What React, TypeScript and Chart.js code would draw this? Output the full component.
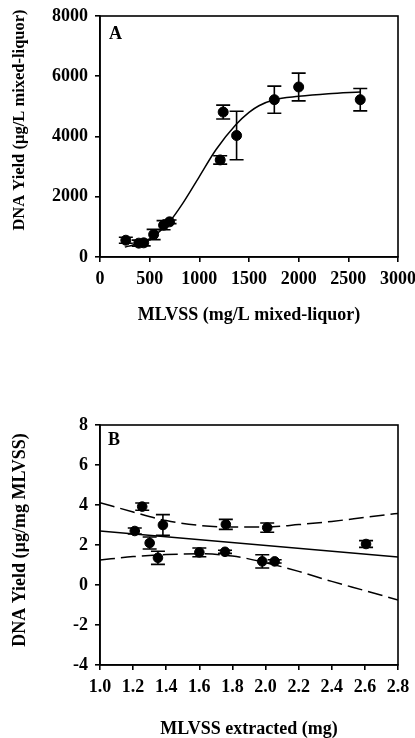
import React, { useEffect, useRef } from "react";
import { Chart, registerables } from "chart.js";

Chart.register(...registerables);

const FONT = "'Liberation Serif', 'Times New Roman', Times, serif";

// ---------- Panel A data ----------
const A_X = [260, 390, 440, 540, 640, 700, 1210, 1240, 1375, 1755, 2000, 2620];
const A_Y = [557, 460, 470, 746, 1056, 1167, 3222, 4811, 4033, 5222, 5644, 5222];
const A_ERR = [100, 100, 100, 170, 150, 60, 140, 230, 805, 450, 460, 370];
const A_FIT_X = [250, 333, 500, 600, 700, 833, 1000, 1167, 1367, 1500, 1600, 1753, 2000, 2300, 2620];
const A_FIT_Y = [330, 400, 600, 850, 1170, 1780, 2670, 3560, 4390, 4800, 5020, 5222, 5333, 5420, 5478];
const A_X_TICKS = [0, 500, 1000, 1500, 2000, 2500, 3000];
const A_Y_TICKS = [0, 2000, 4000, 6000, 8000];
const A_LABEL = "A";
const A_X_TITLE = "MLVSS (mg/L mixed-liquor)";
const A_Y_TITLE = "DNA Yield (µg/L mixed-liquor)";

// ---------- Panel B data ----------
const B_X = [1.21, 1.255, 1.3, 1.35, 1.38, 1.6, 1.755, 1.76, 1.98, 2.01, 2.055, 2.607];
const B_Y = [2.7, 3.92, 2.1, 1.36, 3.0, 1.63, 1.66, 3.03, 1.18, 2.87, 1.18, 2.05];
const B_ERR = [0.15, 0.18, 0.3, 0.33, 0.52, 0.22, 0.08, 0.25, 0.33, 0.23, 0.08, 0.17];
const B_FIT_X = [1.0, 2.8];
const B_FIT_Y = [2.7, 1.4];
const B_BAND_X = [1.0, 1.2, 1.4, 1.6, 1.8, 2.0, 2.2, 2.4, 2.6, 2.8];
const B_UPPER_Y = [4.12, 3.65, 3.22, 2.98, 2.9, 2.9, 3.02, 3.18, 3.38, 3.58];
const B_LOWER_Y = [1.25, 1.42, 1.52, 1.56, 1.45, 1.12, 0.68, 0.18, -0.28, -0.75];
const B_X_TICKS = [1.0, 1.2, 1.4, 1.6, 1.8, 2.0, 2.2, 2.4, 2.6, 2.8];
const B_Y_TICKS = [-4, -2, 0, 2, 4, 6, 8];
const B_LABEL = "B";
const B_X_TITLE = "MLVSS extracted (mg)";
const B_Y_TITLE = "DNA Yield (µg/mg MLVSS)";

const pts = (xs: number[], ys: number[]) => xs.map((x, i) => ({ x, y: ys[i] }));

const errorBarPlugin = {
  id: "errorBars",
  afterDatasetsDraw(chart: any, _args: any, opts: any) {
    if (!opts || !opts.xs) return;
    const ctx = chart.ctx;
    const xs = chart.scales.x;
    const ys = chart.scales.y;
    const cap = opts.cap || 7;
    ctx.save();
    ctx.strokeStyle = "#000";
    ctx.lineWidth = 1.6;
    opts.xs.forEach((xv: number, j: number) => {
      const yv = opts.ys[j];
      const e = opts.errs[j];
      const px = xs.getPixelForValue(xv);
      const top = ys.getPixelForValue(yv + e);
      const bot = ys.getPixelForValue(yv - e);
      ctx.beginPath();
      ctx.moveTo(px, top);
      ctx.lineTo(px, bot);
      ctx.moveTo(px - cap, top);
      ctx.lineTo(px + cap, top);
      ctx.moveTo(px - cap, bot);
      ctx.lineTo(px + cap, bot);
      ctx.stroke();
    });
    ctx.restore();
  },
};

const framePlugin = {
  id: "frame",
  afterDraw(chart: any) {
    const { ctx, chartArea } = chart;
    ctx.save();
    ctx.strokeStyle = "#000";
    ctx.lineWidth = 1.6;
    ctx.strokeRect(chartArea.left, chartArea.top, chartArea.right - chartArea.left, chartArea.bottom - chartArea.top);
    ctx.restore();
  },
};

const textPlugin = {
  id: "texts",
  afterDraw(chart: any, _args: any, opts: any) {
    if (!opts || !opts.items) return;
    const ctx = chart.ctx;
    opts.items.forEach((it: any) => {
      ctx.save();
      ctx.fillStyle = "#000";
      ctx.font = `bold ${it.size}px ${FONT}`;
      ctx.textAlign = "center";
      ctx.textBaseline = "middle";
      ctx.translate(it.x, it.y);
      if (it.rotate) ctx.rotate(it.rotate);
      ctx.fillText(it.text, 0, 0);
      ctx.restore();
    });
  },
};

const tickFont = { family: FONT, size: 18, weight: "bold" as const };

function axis(min: number, max: number, ticks: number[], fmt: (v: number) => string, fit: (s: any) => void) {
  return {
    type: "linear" as const,
    min,
    max,
    afterBuildTicks: (s: any) => {
      s.ticks = ticks.map((v) => ({ value: v }));
    },
    afterFit: fit,
    ticks: {
      color: "#000",
      font: tickFont,
      padding: 7,
      maxRotation: 0,
      autoSkip: false,
      callback: (v: any) => fmt(Number(v)),
    },
    grid: { display: true, drawOnChartArea: false, drawTicks: true, tickLength: 5, color: "#000", lineWidth: 1.6 },
    border: { display: true, color: "#000", width: 1.6 },
  };
}

const fitX = (h: number) => (s: any) => {
  s.height = h;
  s.paddingLeft = 0;
  s.paddingRight = 0;
};
const fitY = (w: number) => (s: any) => {
  s.width = w;
  s.paddingTop = 0;
  s.paddingBottom = 0;
};

function ChartA() {
  const ref = useRef<HTMLCanvasElement>(null);
  useEffect(() => {
    const chart = new Chart(ref.current!, {
      type: "scatter",
      data: {
        datasets: [
          {
            type: "line",
            data: pts(A_FIT_X, A_FIT_Y),
            borderColor: "#000",
            borderWidth: 1.5,
            pointRadius: 0,
            cubicInterpolationMode: "monotone",
            fill: false,
          } as any,
          {
            data: pts(A_X, A_Y),
            backgroundColor: "#000",
            borderColor: "#000",
            pointRadius: 5,
            pointHoverRadius: 5,
          },
        ],
      },
      options: {
        animation: false,
        responsive: false,
        devicePixelRatio: 1,
        events: [],
        layout: { padding: { top: 16, right: 17, left: 0, bottom: 0 } },
        scales: {
          x: axis(0, 3000, A_X_TICKS, (v) => String(v), fitX(83)),
          y: axis(0, 8000, A_Y_TICKS, (v) => String(v), fitY(100)),
        },
        plugins: {
          legend: { display: false },
          tooltip: { enabled: false },
          errorBars: { xs: A_X, ys: A_Y, errs: A_ERR, cap: 7 },
          texts: {
            items: [
              { text: A_LABEL, x: 115.5, y: 34, size: 18 },
              { text: A_X_TITLE, x: 249, y: 315, size: 18 },
              { text: A_Y_TITLE, x: 20, y: 120, size: 16.5, rotate: -Math.PI / 2 },
            ],
          },
        } as any,
      },
      plugins: [errorBarPlugin, framePlugin, textPlugin],
    });
    return () => chart.destroy();
  }, []);
  return <canvas ref={ref} width={415} height={340} style={{ position: "absolute", left: 0, top: 0 }} />;
}

function ChartB() {
  const ref = useRef<HTMLCanvasElement>(null);
  useEffect(() => {
    const dash = [15, 6];
    const chart = new Chart(ref.current!, {
      type: "scatter",
      data: {
        datasets: [
          {
            type: "line",
            data: pts(B_FIT_X, B_FIT_Y),
            borderColor: "#000",
            borderWidth: 1.5,
            pointRadius: 0,
            fill: false,
          } as any,
          {
            type: "line",
            data: pts(B_BAND_X, B_UPPER_Y),
            borderColor: "#000",
            borderWidth: 1.5,
            borderDash: dash,
            pointRadius: 0,
            cubicInterpolationMode: "monotone",
            fill: false,
          } as any,
          {
            type: "line",
            data: pts(B_BAND_X, B_LOWER_Y),
            borderColor: "#000",
            borderWidth: 1.5,
            borderDash: dash,
            pointRadius: 0,
            cubicInterpolationMode: "monotone",
            fill: false,
          } as any,
          {
            data: pts(B_X, B_Y),
            backgroundColor: "#000",
            borderColor: "#000",
            pointRadius: 4.8,
            pointHoverRadius: 4.8,
          },
        ],
      },
      options: {
        animation: false,
        responsive: false,
        devicePixelRatio: 1,
        events: [],
        layout: { padding: { top: 85, right: 17, left: 0, bottom: 0 } },
        scales: {
          x: axis(1.0, 2.8, B_X_TICKS, (v) => v.toFixed(1), fitX(73)),
          y: axis(-4, 8, B_Y_TICKS, (v) => String(v), fitY(100)),
        },
        plugins: {
          legend: { display: false },
          tooltip: { enabled: false },
          errorBars: { xs: B_X, ys: B_Y, errs: B_ERR, cap: 7 },
          texts: {
            items: [
              { text: B_LABEL, x: 114, y: 100.5, size: 18 },
              { text: B_X_TITLE, x: 249, y: 389, size: 18 },
              { text: B_Y_TITLE, x: 20, y: 200, size: 18, rotate: -Math.PI / 2 },
            ],
          },
        } as any,
      },
      plugins: [errorBarPlugin, framePlugin, textPlugin],
    });
    return () => chart.destroy();
  }, []);
  return <canvas ref={ref} width={415} height={398} style={{ position: "absolute", left: 0, top: 340 }} />;
}

export default function App() {
  return (
    <div style={{ position: "absolute", left: 0, top: 0, width: 415, height: 738, background: "#fff", overflow: "hidden" }}>
      <ChartA />
      <ChartB />
    </div>
  );
}
